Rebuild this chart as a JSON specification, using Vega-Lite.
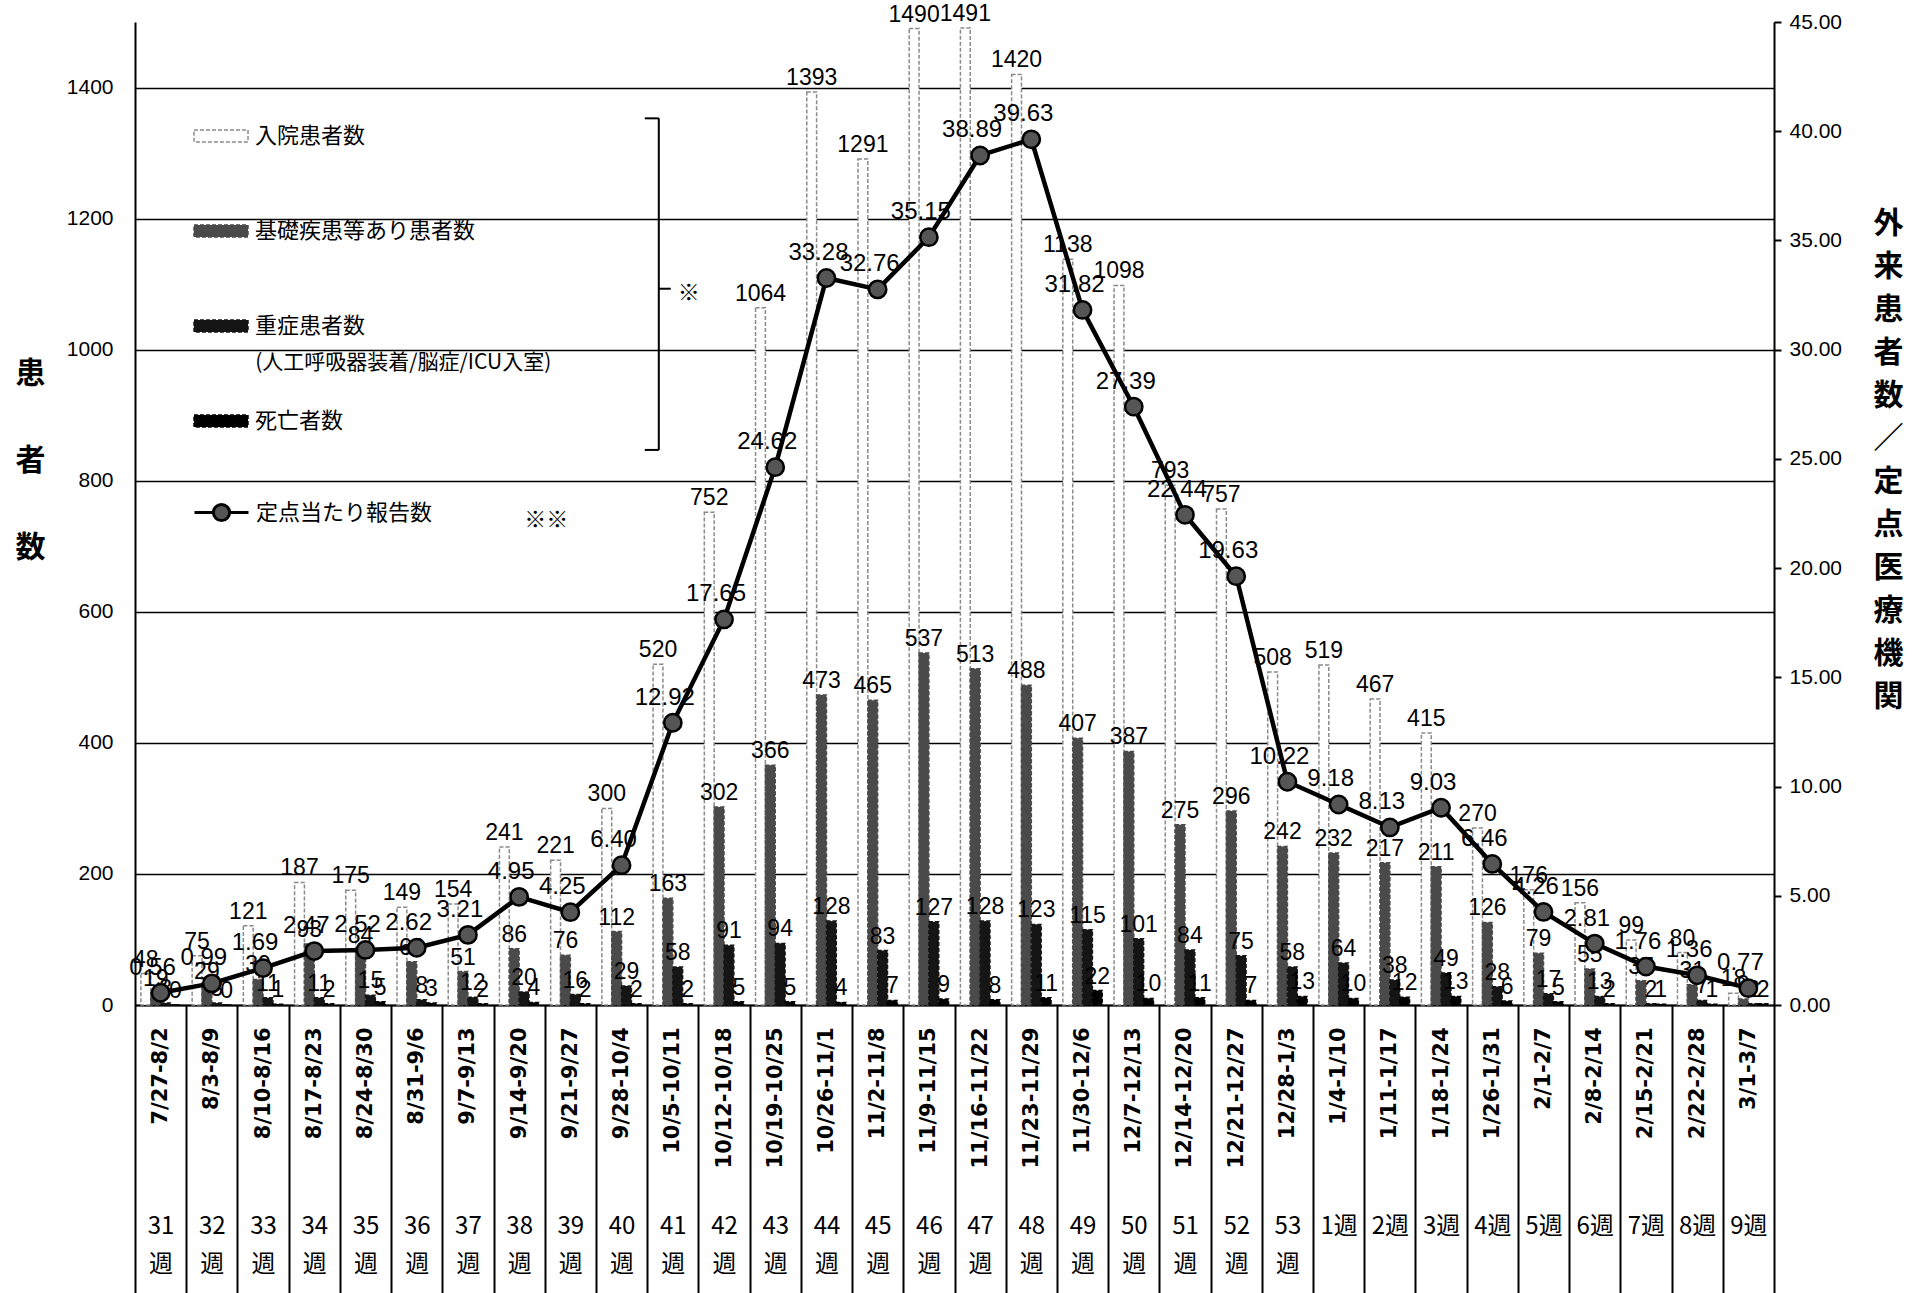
{
  "$schema": "https://vega.github.io/schema/vega-lite/v6.json",
  "width": 1639,
  "height": 983,
  "autosize": {"type": "none"},
  "padding": {"left": 135, "top": 22, "right": 148, "bottom": 288},
  "background": "white",
  "config": {"view": {"stroke": null}, "font": "Liberation Sans"},
  "datasets": {
    "weeks": [
      {"d": "7/27-8/2", "w": "31週", "hosp": 48, "base": 19, "sev": 3, "death": 0, "rate": 0.56},
      {"d": "8/3-8/9", "w": "32週", "hosp": 75, "base": 29, "sev": 3, "death": 0, "rate": 0.99},
      {"d": "8/10-8/16", "w": "33週", "hosp": 121, "base": 39, "sev": 11, "death": 1, "rate": 1.69},
      {"d": "8/17-8/23", "w": "34週", "hosp": 187, "base": 93, "sev": 11, "death": 2, "rate": 2.47},
      {"d": "8/24-8/30", "w": "35週", "hosp": 175, "base": 84, "sev": 15, "death": 5, "rate": 2.52},
      {"d": "8/31-9/6", "w": "36週", "hosp": 149, "base": 66, "sev": 8, "death": 3, "rate": 2.62},
      {"d": "9/7-9/13", "w": "37週", "hosp": 154, "base": 51, "sev": 12, "death": 2, "rate": 3.21},
      {"d": "9/14-9/20", "w": "38週", "hosp": 241, "base": 86, "sev": 20, "death": 4, "rate": 4.95},
      {"d": "9/21-9/27", "w": "39週", "hosp": 221, "base": 76, "sev": 16, "death": 2, "rate": 4.25},
      {"d": "9/28-10/4", "w": "40週", "hosp": 300, "base": 112, "sev": 29, "death": 2, "rate": 6.40},
      {"d": "10/5-10/11", "w": "41週", "hosp": 520, "base": 163, "sev": 58, "death": 2, "rate": 12.92},
      {"d": "10/12-10/18", "w": "42週", "hosp": 752, "base": 302, "sev": 91, "death": 5, "rate": 17.65},
      {"d": "10/19-10/25", "w": "43週", "hosp": 1064, "base": 366, "sev": 94, "death": 5, "rate": 24.62},
      {"d": "10/26-11/1", "w": "44週", "hosp": 1393, "base": 473, "sev": 128, "death": 4, "rate": 33.28},
      {"d": "11/2-11/8", "w": "45週", "hosp": 1291, "base": 465, "sev": 83, "death": 7, "rate": 32.76},
      {"d": "11/9-11/15", "w": "46週", "hosp": 1490, "base": 537, "sev": 127, "death": 9, "rate": 35.15},
      {"d": "11/16-11/22", "w": "47週", "hosp": 1491, "base": 513, "sev": 128, "death": 8, "rate": 38.89},
      {"d": "11/23-11/29", "w": "48週", "hosp": 1420, "base": 488, "sev": 123, "death": 11, "rate": 39.63},
      {"d": "11/30-12/6", "w": "49週", "hosp": 1138, "base": 407, "sev": 115, "death": 22, "rate": 31.82},
      {"d": "12/7-12/13", "w": "50週", "hosp": 1098, "base": 387, "sev": 101, "death": 10, "rate": 27.39},
      {"d": "12/14-12/20", "w": "51週", "hosp": 793, "base": 275, "sev": 84, "death": 11, "rate": 22.44},
      {"d": "12/21-12/27", "w": "52週", "hosp": 757, "base": 296, "sev": 75, "death": 7, "rate": 19.63},
      {"d": "12/28-1/3", "w": "53週", "hosp": 508, "base": 242, "sev": 58, "death": 13, "rate": 10.22},
      {"d": "1/4-1/10", "w": "1週", "hosp": 519, "base": 232, "sev": 64, "death": 10, "rate": 9.18},
      {"d": "1/11-1/17", "w": "2週", "hosp": 467, "base": 217, "sev": 38, "death": 12, "rate": 8.13},
      {"d": "1/18-1/24", "w": "3週", "hosp": 415, "base": 211, "sev": 49, "death": 13, "rate": 9.03},
      {"d": "1/26-1/31", "w": "4週", "hosp": 270, "base": 126, "sev": 28, "death": 6, "rate": 6.46},
      {"d": "2/1-2/7", "w": "5週", "hosp": 176, "base": 79, "sev": 17, "death": 5, "rate": 4.26},
      {"d": "2/8-2/14", "w": "6週", "hosp": 156, "base": 55, "sev": 13, "death": 2, "rate": 2.81},
      {"d": "2/15-2/21", "w": "7週", "hosp": 99, "base": 37, "sev": 2, "death": 1, "rate": 1.76},
      {"d": "2/22-2/28", "w": "8週", "hosp": 80, "base": 31, "sev": 7, "death": 1, "rate": 1.36},
      {"d": "3/1-3/7", "w": "9週", "hosp": 18, "base": 9, "sev": 2, "death": 2, "rate": 0.77}
    ],
    "bracket": [{"d": "10/5-10/11", "y": 847, "y2": 1353}],
    "hooks": [{"d": "10/5-10/11", "y": 847}, {"d": "10/5-10/11", "y": 1353}],
    "stub": [{"d": "10/5-10/11", "y": 1093}],
    "marks": [
      {"d": "10/5-10/11", "y": 1087, "t": "※"},
      {"d": "9/14-9/20", "y": 740, "t": "※※"}
    ],
    "sub": [{"d": "8/17-8/23", "y": 980, "t": "(人工呼吸器装着/脳症/ICU入室)"}]
  },
  "layer": [
    {
      "data": {"name": "weeks"},
      "layer": [
        {
          "transform": [{"fold": ["hosp", "base", "sev", "death"], "as": ["series", "value"]}],
          "mark": {"type": "bar", "strokeWidth": 1.5, "strokeDash": [4, 2]},
          "encoding": {
            "x": {
              "field": "d", "type": "nominal", "sort": null,
              "scale": {"paddingInner": 0, "paddingOuter": 0},
              "axis": {
                "title": null, "orient": "bottom", "domainColor": "black", "domainWidth": 2,
                "tickBand": "extent", "tickSize": 290, "tickColor": "black", "tickWidth": 2,
                "labelAngle": 270, "labelAlign": "right", "labelBaseline": "middle",
                "labelPadding": -268, "labelFontSize": 21, "labelFontWeight": "bold",
                "labelColor": "black", "labelFont": "DejaVu Sans", "labelOverlap": false
              }
            },
            "xOffset": {"field": "series", "type": "nominal", "sort": ["hosp", "base", "sev", "death"], "scale": {"paddingOuter": 0.6, "paddingInner": 0}},
            "y": {
              "field": "value", "type": "quantitative",
              "scale": {"domain": [0, 1500], "nice": false},
              "axis": {
                "title": ["患", "者", "数"], "orient": "left",
                "values": [0, 200, 400, 600, 800, 1000, 1200, 1400], "format": "d",
                "grid": true, "gridColor": "black", "gridWidth": 1.5,
                "domainColor": "black", "domainWidth": 2, "ticks": false,
                "labelPadding": 22, "labelFontSize": 21, "labelColor": "black",
                "labelFont": "Liberation Sans Narrow, Liberation Sans",
                "titleAngle": 0, "titleX": -105, "titleY": 336, "titleAlign": "center",
                "titleBaseline": "top", "titleFontSize": 30, "titleFontWeight": "bold",
                "titleFont": "Noto Sans CJK JP", "titleLineHeight": 87, "titleColor": "black"
              }
            },
            "fill": {
              "field": "series", "type": "nominal",
              "scale": {"domain": ["hosp", "base", "sev", "death"], "range": ["#ffffff", "#4a4a4a", "#151515", "#000000"]},
              "legend": {
                "orient": "none", "legendX": 58, "legendY": 86, "title": null,
                "symbolType": "M-1,-0.22H1V0.22H-1Z", "symbolSize": 2916,
                "symbolDash": [4, 2], "symbolStrokeWidth": 1.5,
                "labelFontSize": 22, "labelFont": "Noto Sans CJK JP", "labelColor": "black",
                "rowPadding": 56, "labelOffset": 6, "labelLimit": 600,
                "labelExpr": "datum.label == 'hosp' ? '入院患者数' : datum.label == 'base' ? '基礎疾患等あり患者数' : datum.label == 'sev' ? '重症患者数' : '死亡者数'"
              }
            },
            "stroke": {
              "field": "series", "type": "nominal",
              "scale": {"domain": ["hosp", "base", "sev", "death"], "range": ["#8a8a8a", "#4a4a4a", "#151515", "#000000"]},
              "legend": {
                "orient": "none", "legendX": 58, "legendY": 86, "title": null,
                "symbolType": "M-1,-0.22H1V0.22H-1Z", "symbolSize": 2916,
                "symbolDash": [4, 2], "symbolStrokeWidth": 1.5,
                "labelFontSize": 22, "labelFont": "Noto Sans CJK JP", "labelColor": "black",
                "rowPadding": 56, "labelOffset": 6, "labelLimit": 600,
                "labelExpr": "datum.label == 'hosp' ? '入院患者数' : datum.label == 'base' ? '基礎疾患等あり患者数' : datum.label == 'sev' ? '重症患者数' : '死亡者数'"
              }
            }
          }
        },
        {
          "transform": [{"fold": ["hosp", "base", "sev", "death"], "as": ["series", "value"]}],
          "mark": {"type": "text", "baseline": "bottom", "dy": -2, "fontSize": 23, "font": "Liberation Sans Narrow, Liberation Sans", "color": "black"},
          "encoding": {
            "x": {"field": "d", "type": "nominal", "sort": null},
            "xOffset": {"field": "series", "type": "nominal", "sort": ["hosp", "base", "sev", "death"]},
            "y": {"field": "value", "type": "quantitative"},
            "text": {"field": "value", "type": "quantitative"}
          }
        },
        {
          "data": {"name": "bracket"},
          "mark": {"type": "rule", "color": "black", "strokeWidth": 2, "xOffset": -14},
          "encoding": {
            "x": {"field": "d", "type": "nominal", "sort": null},
            "y": {"field": "y", "type": "quantitative"},
            "y2": {"field": "y2"}
          }
        },
        {
          "data": {"name": "hooks"},
          "mark": {"type": "rule", "color": "black", "strokeWidth": 2, "xOffset": -28, "x2Offset": -14},
          "encoding": {
            "x": {"field": "d", "type": "nominal", "sort": null},
            "x2": {"field": "d"},
            "y": {"field": "y", "type": "quantitative"}
          }
        },
        {
          "data": {"name": "stub"},
          "mark": {"type": "rule", "color": "black", "strokeWidth": 2, "xOffset": -14, "x2Offset": -2},
          "encoding": {
            "x": {"field": "d", "type": "nominal", "sort": null},
            "x2": {"field": "d"},
            "y": {"field": "y", "type": "quantitative"}
          }
        },
        {
          "data": {"name": "marks"},
          "mark": {"type": "text", "align": "left", "baseline": "middle", "dx": 5, "fontSize": 22, "font": "Noto Sans CJK JP", "color": "black"},
          "encoding": {
            "x": {"field": "d", "type": "nominal", "sort": null},
            "y": {"field": "y", "type": "quantitative"},
            "text": {"field": "t"}
          }
        },
        {
          "data": {"name": "sub"},
          "mark": {"type": "text", "align": "left", "baseline": "middle", "dx": -59, "fontSize": 21, "font": "Noto Sans CJK JP", "color": "black"},
          "encoding": {
            "x": {"field": "d", "type": "nominal", "sort": null},
            "y": {"field": "y", "type": "quantitative"},
            "text": {"field": "t"}
          }
        }
      ]
    },
    {
      "data": {"name": "weeks"},
      "layer": [
        {
          "mark": {"type": "line", "color": "black", "strokeWidth": 4.5},
          "encoding": {
            "x": {
              "field": "w", "type": "nominal", "sort": null,
              "scale": {"type": "point", "padding": 0.5},
              "axis": {
                "orient": "bottom", "title": null, "domain": false, "ticks": false, "grid": false,
                "labelPadding": 209, "labelFontSize": 24, "labelLineHeight": 38,
                "labelColor": "black", "labelFont": "Noto Sans CJK JP", "labelAngle": 0,
                "labelAlign": "center", "labelBaseline": "top", "labelOverlap": false,
                "labelExpr": "length(datum.label) == 3 ? [substring(datum.label, 0, 2), '週'] : datum.label"
              }
            },
            "y": {
              "field": "rate", "type": "quantitative",
              "scale": {"domain": [0, 45], "nice": false},
              "axis": {
                "orient": "right",
                "title": ["外", "来", "患", "者", "数", "／", "定", "点", "医", "療", "機", "関"],
                "values": [0, 5, 10, 15, 20, 25, 30, 35, 40, 45], "format": ".2f",
                "grid": false, "domainColor": "black", "domainWidth": 2,
                "tickColor": "black", "tickWidth": 2, "tickSize": 7, "labelPadding": 8,
                "labelFontSize": 21, "labelColor": "black",
                "labelFont": "Liberation Sans Narrow, Liberation Sans",
                "titleAngle": 0, "titleX": 114, "titleY": 186, "titleAlign": "center",
                "titleBaseline": "top", "titleFontSize": 30, "titleFontWeight": "bold",
                "titleLineHeight": 43, "titleColor": "black", "titleFont": "Noto Sans CJK JP"
              }
            }
          }
        },
        {
          "mark": {"type": "point", "filled": true, "size": 300, "stroke": "black", "strokeWidth": 2.5, "opacity": 1},
          "encoding": {
            "x": {"field": "w", "type": "nominal", "sort": null},
            "y": {"field": "rate", "type": "quantitative"},
            "color": {
              "datum": "定点当たり報告数", "type": "nominal",
              "scale": {"range": ["#555555"]},
              "legend": {
                "orient": "none", "legendX": 58, "legendY": 462, "title": null,
                "symbolType": "M-1,0H-0.3M0.3,0H1M-0.3,0A0.3,0.3,0,1,1,0.3,0A0.3,0.3,0,1,1,-0.3,0Z",
                "symbolSize": 2916, "symbolFillColor": "#555555", "symbolStrokeColor": "black",
                "symbolStrokeWidth": 3, "labelFontSize": 22, "labelFont": "Noto Sans CJK JP",
                "labelColor": "black", "labelOffset": 6, "labelLimit": 600
              }
            }
          }
        },
        {
          "mark": {"type": "text", "baseline": "bottom", "dy": -13, "dx": -8, "fontSize": 24, "font": "Liberation Sans Narrow, Liberation Sans", "color": "black"},
          "encoding": {
            "x": {"field": "w", "type": "nominal", "sort": null},
            "y": {"field": "rate", "type": "quantitative"},
            "text": {"field": "rate", "type": "quantitative", "format": ".2f"}
          }
        }
      ]
    }
  ],
  "resolve": {"scale": {"x": "independent", "y": "independent", "xOffset": "independent"}}
}
